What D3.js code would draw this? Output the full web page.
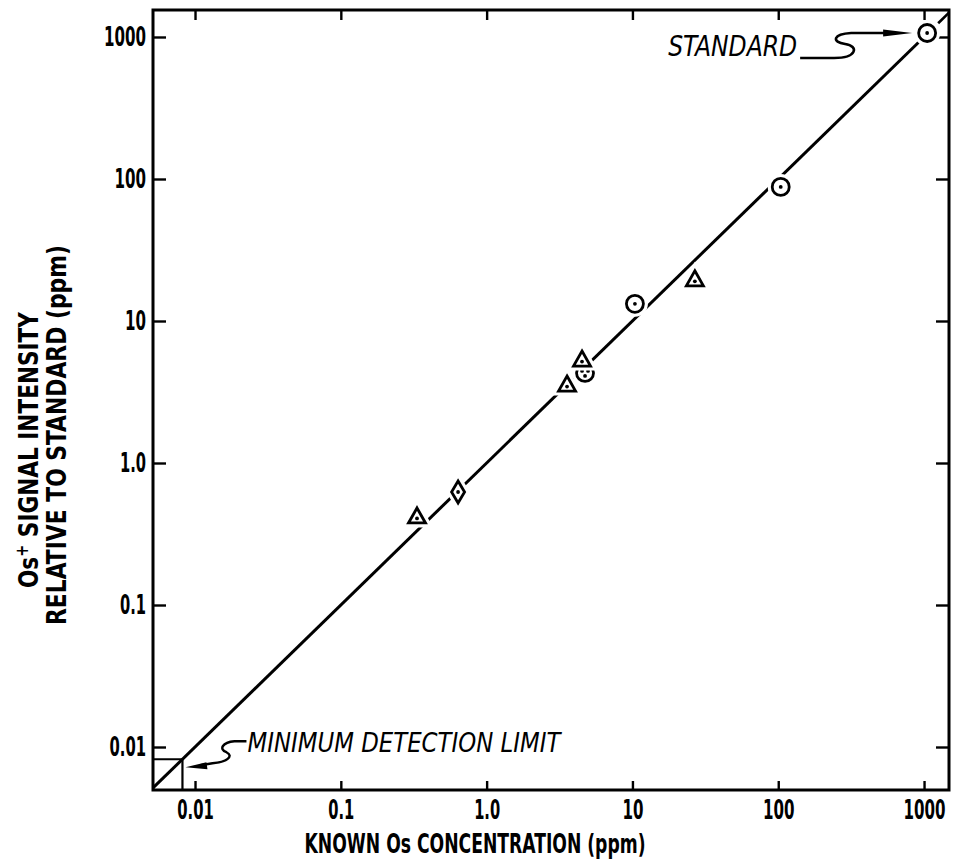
<!DOCTYPE html>
<html>
<head>
<meta charset="utf-8">
<script src="https://cdn.jsdelivr.net/npm/d3@7"></script>
<style>
  body { margin: 0; background: #fff; }
  text { font-family: "Liberation Sans Narrow", "DejaVu Sans Condensed", "Liberation Sans", sans-serif; fill: #000; }
</style>
</head>
<body>
<div id="chart"></div>
<script>
// decade ticks, same on both axes
const decades = [0.01, 0.1, 1, 10, 100, 1000];
const tickLabels = ["0.01", "0.1", "1.0", "10", "100", "1000"];

// measured points (known conc, signal relative to standard)
const circleX = [1050, 104, 10.4];
const circleY = [1067, 88, 13.2];
const dotCircleX = [4.73];
const dotCircleY = [4.31];
const triangleX = [26.8, 4.51, 3.56, 0.333];
const triangleY = [19.5, 5.31, 3.54, 0.417];
const diamondX = [0.637];
const diamondY = [0.625];

// calibration line and its dashed continuation past the standard
const fitX = [0.00515, 1050];
const fitY = [0.00515, 1050];
const extX = [1250, 1483];
const extY = [1250, 1483];

const detLimit = 0.0082;

const margin = { top: 10, right: 12, bottom: 70, left: 153 };
const width = 961 - margin.left - margin.right;
const height = 860 - margin.top - margin.bottom;

const svg = d3.select("#chart")
    .append("svg")
    .attr("width", 961)
    .attr("height", 860);

const g = svg.append("g")
    .attr("transform", `translate(${margin.left},${margin.top})`);

const x = d3.scaleLog().domain([0.00515, 1483]).range([0, width]);
const y = d3.scaleLog().domain([0.00498, 1549]).range([height, 0]);

const font = '"Liberation Sans Narrow", "DejaVu Sans Condensed", "Liberation Sans", sans-serif';
const labelOf = d => tickLabels[decades.indexOf(d)];
const labelWidth = s => s.replace(/\./g, "").length * 10.5 + (s.includes(".") ? 5 : 0);

// axes, ticks pointing inward
const bottom = g.append("g")
    .attr("transform", `translate(0,${height})`)
    .call(d3.axisBottom(x).tickValues(decades).tickFormat(labelOf).tickSize(-9).tickSizeOuter(0).tickPadding(11));
const left = g.append("g")
    .call(d3.axisLeft(y).tickValues(decades).tickFormat(labelOf).tickSize(-13).tickSizeOuter(0).tickPadding(7));
g.append("g")
    .attr("transform", `translate(${width},0)`)
    .call(d3.axisRight(y).tickValues(decades).tickFormat("").tickSize(-13).tickSizeOuter(0));
g.append("g")
    .call(d3.axisTop(x).tickValues(decades).tickFormat("").tickSize(-10).tickSizeOuter(0));

g.selectAll(".domain").remove();
g.selectAll(".tick line").attr("stroke", "#000").attr("stroke-width", 2.4);
[bottom, left].forEach(a => a.selectAll(".tick text")
    .attr("font-size", 26)
    .attr("font-weight", "bold")
    .attr("textLength", function() { return labelWidth(this.textContent); })
    .attr("lengthAdjust", "spacingAndGlyphs")
    .style("font-family", font));

// frame
g.append("rect")
    .attr("width", width)
    .attr("height", height)
    .attr("fill", "none")
    .attr("stroke", "#000")
    .attr("stroke-width", 3);

// minimum detection limit box
g.append("path")
    .attr("d", `M0,${y(detLimit)}H${x(detLimit)}V${height}`)
    .attr("fill", "none")
    .attr("stroke", "#000")
    .attr("stroke-width", 2.2);

const line = d3.line().x(d => x(d[0])).y(d => y(d[1]));

g.append("path")
    .datum(d3.zip(fitX, fitY))
    .attr("d", line)
    .attr("fill", "none")
    .attr("stroke", "#000")
    .attr("stroke-width", 3);

g.append("path")
    .datum(d3.zip(extX, extY))
    .attr("d", line)
    .attr("fill", "none")
    .attr("stroke", "#000")
    .attr("stroke-width", 2.6);

// markers: white halo first so the line breaks around them
function drawMarkers(xs, ys, shape, dots) {
    const m = g.selectAll(null)
        .data(d3.zip(xs, ys))
        .enter()
        .append("g")
        .attr("transform", d => `translate(${x(d[0])},${y(d[1])})`);
    m.append("path").attr("d", shape).attr("fill", "#fff").attr("stroke", "#fff").attr("stroke-width", 9);
    m.append("path").attr("d", shape).attr("fill", "#fff").attr("stroke", "#000").attr("stroke-width", 2.8);
    dots.forEach(p => m.append("circle").attr("cx", p[0]).attr("cy", p[1]).attr("r", 1.9).attr("fill", "#000"));
}

const circleShape = "M8.5,0A8.5,8.5 0 1,1 -8.5,0A8.5,8.5 0 1,1 8.5,0Z";
drawMarkers(circleX, circleY, circleShape, [[0, 0]]);
drawMarkers(dotCircleX, dotCircleY, circleShape, [[-3, -2], [3, -2], [0, 3]]);
drawMarkers(triangleX, triangleY, "M0,-9L8.5,6L-8.5,6Z", [[0, 1.5]]);
drawMarkers(diamondX, diamondY, "M0,-11L6.5,0L0,11L-6.5,0Z", [[0, 0]]);

// annotations
const sx = x(circleX[0]), sy = y(circleY[0]);
g.append("text")
    .attr("x", sx - 130)
    .attr("y", sy + 23)
    .attr("text-anchor", "end")
    .attr("font-size", 29)
    .attr("font-style", "italic")
    .attr("textLength", 129)
    .attr("lengthAdjust", "spacingAndGlyphs")
    .style("font-family", font)
    .text("STANDARD");
g.append("path")
    .attr("d", `M${sx - 127},${sy + 25}L${sx - 93},${sy + 25}C${sx - 70},${sy + 25} ${sx - 68},${sy + 13} ${sx - 82},${sy + 11}C${sx - 96},${sy + 9} ${sx - 94},${sy + 1} ${sx - 76},${sy}L${sx - 40},${sy}`)
    .attr("fill", "none")
    .attr("stroke", "#000")
    .attr("stroke-width", 2.6);
g.append("path")
    .attr("d", `M${sx - 44},${sy - 3.5}L${sx - 15},${sy}L${sx - 44},${sy + 3.5}Z`)
    .attr("fill", "#000");

const dx0 = x(detLimit), dy0 = y(detLimit);
g.append("text")
    .attr("x", dx0 + 65)
    .attr("y", dy0 - 7)
    .attr("font-size", 27)
    .attr("font-style", "italic")
    .attr("textLength", 313)
    .attr("lengthAdjust", "spacingAndGlyphs")
    .style("font-family", font)
    .text("MINIMUM DETECTION LIMIT");
g.append("path")
    .attr("d", `M${dx0 + 64},${dy0 - 18}L${dx0 + 52},${dy0 - 18}C${dx0 + 40},${dy0 - 17} ${dx0 + 36},${dy0 - 10} ${dx0 + 44},${dy0 - 7}C${dx0 + 52},${dy0 - 3} ${dx0 + 44},${dy0 + 3} ${dx0 + 30},${dy0 + 4}L${dx0 + 18},${dy0 + 6}`)
    .attr("fill", "none")
    .attr("stroke", "#000")
    .attr("stroke-width", 2.4);
g.append("path")
    .attr("d", `M${dx0 + 3},${dy0 + 8}L${dx0 + 24},${dy0 + 3}L${dx0 + 25},${dy0 + 10}Z`)
    .attr("fill", "#000");

// axis titles
svg.append("text")
    .attr("x", 475)
    .attr("y", 853)
    .attr("text-anchor", "middle")
    .attr("font-size", 27)
    .attr("font-weight", "bold")
    .attr("textLength", 341)
    .attr("lengthAdjust", "spacingAndGlyphs")
    .style("font-family", font)
    .text("KNOWN  Os CONCENTRATION (ppm)");

const yTitle = svg.append("text")
    .attr("transform", "translate(38,450) rotate(-90)")
    .attr("text-anchor", "middle")
    .attr("font-size", 27)
    .attr("font-weight", "bold")
    .attr("textLength", 276)
    .attr("lengthAdjust", "spacingAndGlyphs")
    .style("font-family", font);
yTitle.append("tspan").text("Os");
yTitle.append("tspan").attr("dy", -10).attr("font-size", 18).text("+");
yTitle.append("tspan").attr("dy", 10).text(" SIGNAL INTENSITY");

svg.append("text")
    .attr("transform", "translate(66,435) rotate(-90)")
    .attr("text-anchor", "middle")
    .attr("font-size", 27)
    .attr("font-weight", "bold")
    .attr("textLength", 380)
    .attr("lengthAdjust", "spacingAndGlyphs")
    .style("font-family", font)
    .text("RELATIVE TO STANDARD (ppm)");
</script>
</body>
</html>
